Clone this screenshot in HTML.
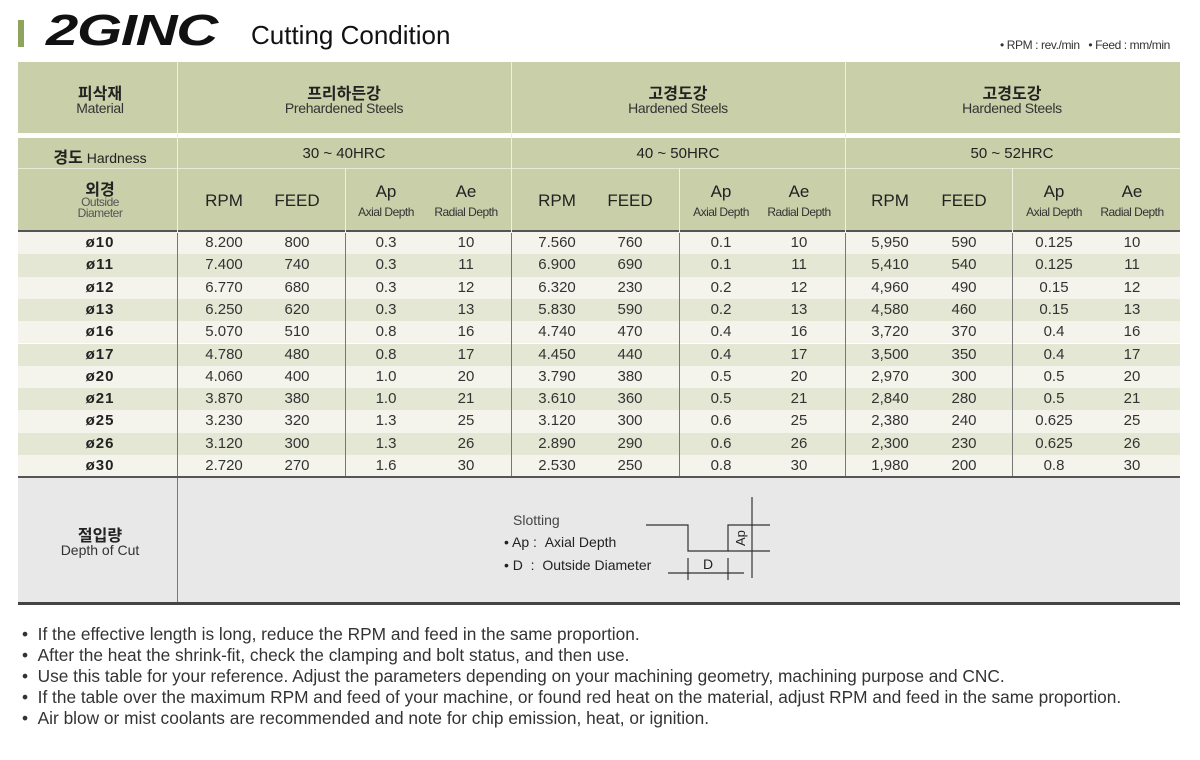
<!DOCTYPE html>
<html><head><meta charset="utf-8">
<style>
*{margin:0;padding:0;box-sizing:border-box}
body{width:1200px;height:760px;background:#fff;position:relative;overflow:hidden;font-family:"Liberation Sans","Noto Sans CJK KR",sans-serif;color:#222}
.a{position:absolute}
.c{position:absolute;text-align:center;white-space:nowrap}
.hd{background:#c9cfa8}
.vl{position:absolute;width:1px}
.row{position:absolute;left:18px;width:1162px;height:22.3px}
.row div{position:absolute;top:0;height:22.3px;line-height:22.3px;text-align:center;font-size:15px;color:#333;transform:translateX(-50%);white-space:nowrap}
.row div.d{font-weight:bold;color:#222;letter-spacing:1px}
.k{font-weight:bold;font-size:16px;color:#222}
.s{font-size:14px;color:#333;letter-spacing:-0.3px}
.ss{font-size:12px;color:#333;letter-spacing:-0.5px}
.b{font-size:17px;color:#222}
.n{position:absolute;left:22px;font-size:17.3px;color:#333;white-space:nowrap}
</style></head><body>
<div class="a" style="left:18px;top:20px;width:6px;height:27px;background:#8fa35c"></div>
<div class="a" style="left:46px;top:6px;font-size:44px;font-weight:900;font-style:italic;letter-spacing:-1px;color:#111;transform:scaleX(1.32);transform-origin:left">2GINC</div>
<div class="a" style="left:251px;top:20px;font-size:26px;color:#111">Cutting Condition</div>
<div class="a" style="left:1000px;top:38px;font-size:12px;color:#333;letter-spacing:-0.4px">• RPM : rev./min &nbsp; • Feed : mm/min</div>

<div class="a hd" style="left:18px;top:62px;width:1162px;height:71px"></div>
<div class="a hd" style="left:18px;top:138px;width:1162px;height:92px"></div>
<div class="a" style="left:18px;top:168px;width:1162px;height:1px;background:#e6e9d8"></div>
<div class="a" style="left:18px;top:230px;width:1162px;height:3px;background:#555"></div>
<div class="vl" style="left:177px;top:62px;height:171px;background:#eef0e2"></div>
<div class="vl" style="left:511px;top:62px;height:171px;background:#eef0e2"></div>
<div class="vl" style="left:845px;top:62px;height:171px;background:#eef0e2"></div>
<div class="vl" style="left:345px;top:168px;height:65px;background:#eef0e2"></div>
<div class="vl" style="left:679px;top:168px;height:65px;background:#eef0e2"></div>
<div class="vl" style="left:1012px;top:168px;height:65px;background:#eef0e2"></div>

<div class="c k" style="left:40px;width:120px;top:80px">피삭재</div>
<div class="c s" style="left:40px;width:120px;top:100px">Material</div>
<div class="c k" style="left:244px;width:200px;top:80px">프리하든강</div>
<div class="c s" style="left:244px;width:200px;top:100px">Prehardened Steels</div>
<div class="c k" style="left:578px;width:200px;top:80px">고경도강</div>
<div class="c s" style="left:578px;width:200px;top:100px">Hardened Steels</div>
<div class="c k" style="left:912px;width:200px;top:80px">고경도강</div>
<div class="c s" style="left:912px;width:200px;top:100px">Hardened Steels</div>

<div class="c" style="left:40px;width:120px;top:144px;font-size:14px"><span class="k">경도</span> Hardness</div>
<div class="c" style="left:244px;width:200px;top:145px;font-size:15px">30 ~ 40HRC</div>
<div class="c" style="left:578px;width:200px;top:145px;font-size:15px">40 ~ 50HRC</div>
<div class="c" style="left:912px;width:200px;top:145px;font-size:15px">50 ~ 52HRC</div>

<div class="c k" style="left:40px;width:120px;top:176px">외경</div>
<div class="c ss" style="left:40px;width:120px;top:197px;line-height:11px;color:#555">Outside<br>Diameter</div>

<div class="c b" style="left:184px;width:80px;top:191px">RPM</div>
<div class="c b" style="left:257px;width:80px;top:191px">FEED</div>
<div class="c b" style="left:346px;width:80px;top:182px">Ap</div>
<div class="c ss" style="left:346px;width:80px;top:205px">Axial Depth</div>
<div class="c b" style="left:426px;width:80px;top:182px">Ae</div>
<div class="c ss" style="left:426px;width:80px;top:205px">Radial Depth</div>

<div class="c b" style="left:517px;width:80px;top:191px">RPM</div>
<div class="c b" style="left:590px;width:80px;top:191px">FEED</div>
<div class="c b" style="left:681px;width:80px;top:182px">Ap</div>
<div class="c ss" style="left:681px;width:80px;top:205px">Axial Depth</div>
<div class="c b" style="left:759px;width:80px;top:182px">Ae</div>
<div class="c ss" style="left:759px;width:80px;top:205px">Radial Depth</div>

<div class="c b" style="left:850px;width:80px;top:191px">RPM</div>
<div class="c b" style="left:924px;width:80px;top:191px">FEED</div>
<div class="c b" style="left:1014px;width:80px;top:182px">Ap</div>
<div class="c ss" style="left:1014px;width:80px;top:205px">Axial Depth</div>
<div class="c b" style="left:1092px;width:80px;top:182px">Ae</div>
<div class="c ss" style="left:1092px;width:80px;top:205px">Radial Depth</div>

<div id="rows">
<div class="row" style="top:232px;background:#f4f4ec"><div class="d" style="left:82px">ø10</div><div style="left:206px">8.200</div><div style="left:279px">800</div><div style="left:368px">0.3</div><div style="left:448px">10</div><div style="left:539px">7.560</div><div style="left:612px">760</div><div style="left:703px">0.1</div><div style="left:781px">10</div><div style="left:872px">5,950</div><div style="left:946px">590</div><div style="left:1036px">0.125</div><div style="left:1114px">10</div></div>
<div class="row" style="top:254.3px;background:#e4e7d4"><div class="d" style="left:82px">ø11</div><div style="left:206px">7.400</div><div style="left:279px">740</div><div style="left:368px">0.3</div><div style="left:448px">11</div><div style="left:539px">6.900</div><div style="left:612px">690</div><div style="left:703px">0.1</div><div style="left:781px">11</div><div style="left:872px">5,410</div><div style="left:946px">540</div><div style="left:1036px">0.125</div><div style="left:1114px">11</div></div>
<div class="row" style="top:276.6px;background:#f4f4ec"><div class="d" style="left:82px">ø12</div><div style="left:206px">6.770</div><div style="left:279px">680</div><div style="left:368px">0.3</div><div style="left:448px">12</div><div style="left:539px">6.320</div><div style="left:612px">230</div><div style="left:703px">0.2</div><div style="left:781px">12</div><div style="left:872px">4,960</div><div style="left:946px">490</div><div style="left:1036px">0.15</div><div style="left:1114px">12</div></div>
<div class="row" style="top:298.9px;background:#e4e7d4"><div class="d" style="left:82px">ø13</div><div style="left:206px">6.250</div><div style="left:279px">620</div><div style="left:368px">0.3</div><div style="left:448px">13</div><div style="left:539px">5.830</div><div style="left:612px">590</div><div style="left:703px">0.2</div><div style="left:781px">13</div><div style="left:872px">4,580</div><div style="left:946px">460</div><div style="left:1036px">0.15</div><div style="left:1114px">13</div></div>
<div class="row" style="top:321.2px;background:#f4f4ec"><div class="d" style="left:82px">ø16</div><div style="left:206px">5.070</div><div style="left:279px">510</div><div style="left:368px">0.8</div><div style="left:448px">16</div><div style="left:539px">4.740</div><div style="left:612px">470</div><div style="left:703px">0.4</div><div style="left:781px">16</div><div style="left:872px">3,720</div><div style="left:946px">370</div><div style="left:1036px">0.4</div><div style="left:1114px">16</div></div>
<div class="row" style="top:343.5px;background:#e4e7d4"><div class="d" style="left:82px">ø17</div><div style="left:206px">4.780</div><div style="left:279px">480</div><div style="left:368px">0.8</div><div style="left:448px">17</div><div style="left:539px">4.450</div><div style="left:612px">440</div><div style="left:703px">0.4</div><div style="left:781px">17</div><div style="left:872px">3,500</div><div style="left:946px">350</div><div style="left:1036px">0.4</div><div style="left:1114px">17</div></div>
<div class="row" style="top:365.8px;background:#f4f4ec"><div class="d" style="left:82px">ø20</div><div style="left:206px">4.060</div><div style="left:279px">400</div><div style="left:368px">1.0</div><div style="left:448px">20</div><div style="left:539px">3.790</div><div style="left:612px">380</div><div style="left:703px">0.5</div><div style="left:781px">20</div><div style="left:872px">2,970</div><div style="left:946px">300</div><div style="left:1036px">0.5</div><div style="left:1114px">20</div></div>
<div class="row" style="top:388.1px;background:#e4e7d4"><div class="d" style="left:82px">ø21</div><div style="left:206px">3.870</div><div style="left:279px">380</div><div style="left:368px">1.0</div><div style="left:448px">21</div><div style="left:539px">3.610</div><div style="left:612px">360</div><div style="left:703px">0.5</div><div style="left:781px">21</div><div style="left:872px">2,840</div><div style="left:946px">280</div><div style="left:1036px">0.5</div><div style="left:1114px">21</div></div>
<div class="row" style="top:410.4px;background:#f4f4ec"><div class="d" style="left:82px">ø25</div><div style="left:206px">3.230</div><div style="left:279px">320</div><div style="left:368px">1.3</div><div style="left:448px">25</div><div style="left:539px">3.120</div><div style="left:612px">300</div><div style="left:703px">0.6</div><div style="left:781px">25</div><div style="left:872px">2,380</div><div style="left:946px">240</div><div style="left:1036px">0.625</div><div style="left:1114px">25</div></div>
<div class="row" style="top:432.7px;background:#e4e7d4"><div class="d" style="left:82px">ø26</div><div style="left:206px">3.120</div><div style="left:279px">300</div><div style="left:368px">1.3</div><div style="left:448px">26</div><div style="left:539px">2.890</div><div style="left:612px">290</div><div style="left:703px">0.6</div><div style="left:781px">26</div><div style="left:872px">2,300</div><div style="left:946px">230</div><div style="left:1036px">0.625</div><div style="left:1114px">26</div></div>
<div class="row" style="top:455px;background:#f4f4ec"><div class="d" style="left:82px">ø30</div><div style="left:206px">2.720</div><div style="left:279px">270</div><div style="left:368px">1.6</div><div style="left:448px">30</div><div style="left:539px">2.530</div><div style="left:612px">250</div><div style="left:703px">0.8</div><div style="left:781px">30</div><div style="left:872px">1,980</div><div style="left:946px">200</div><div style="left:1036px">0.8</div><div style="left:1114px">30</div></div>
</div>
<div class="vl" style="left:177px;top:233px;height:243px;background:#777"></div>
<div class="vl" style="left:345px;top:233px;height:243px;background:#777"></div>
<div class="vl" style="left:511px;top:233px;height:243px;background:#777"></div>
<div class="vl" style="left:679px;top:233px;height:243px;background:#777"></div>
<div class="vl" style="left:845px;top:233px;height:243px;background:#777"></div>
<div class="vl" style="left:1012px;top:233px;height:243px;background:#777"></div>
<div class="a" style="left:18px;top:476px;width:1162px;height:2px;background:#555"></div>

<div class="a" style="left:18px;top:478px;width:1162px;height:124px;background:#e8e8e8"></div>
<div class="vl" style="left:177px;top:478px;height:124px;background:#777"></div>
<div class="a" style="left:18px;top:602px;width:1162px;height:3px;background:#444"></div>
<div class="c k" style="left:40px;width:120px;top:522px">절입량</div>
<div class="c" style="left:40px;width:120px;top:542px;font-size:14px;color:#333">Depth of Cut</div>
<div class="a" style="left:513px;top:512px;font-size:14px;color:#444">Slotting</div>
<div class="a" style="left:504px;top:534px;font-size:14px;color:#222;white-space:nowrap">• Ap : &nbsp;Axial Depth</div>
<div class="a" style="left:504px;top:557px;font-size:14px;color:#222;white-space:nowrap">• D &nbsp;: &nbsp;Outside Diameter</div>
<svg class="a" style="left:640px;top:490px" width="140" height="100" viewBox="640 490 140 100">
<g stroke="#333" stroke-width="1.2" fill="none">
<polyline points="646,525 688,525 688,551 728,551 728,525 770,525"/>
<line x1="728" y1="551" x2="770" y2="551"/>
<line x1="752" y1="497" x2="752" y2="578"/>
<line x1="668" y1="573" x2="744" y2="573"/>
<line x1="688" y1="558" x2="688" y2="580"/>
<line x1="728" y1="558" x2="728" y2="580"/>
</g>
<text x="703" y="569" font-size="14" font-family="Liberation Sans" fill="#222">D</text>
<text transform="translate(745,546) rotate(-90)" font-size="13" font-family="Liberation Sans" fill="#222">Ap</text>
</svg>

<div class="n" style="top:624px">•&nbsp;&nbsp;If the effective length is long, reduce the RPM and feed in the same proportion.</div>
<div class="n" style="top:645px">•&nbsp;&nbsp;After the heat the shrink-fit, check the clamping and bolt status, and then use.</div>
<div class="n" style="top:666px">•&nbsp;&nbsp;Use this table for your reference. Adjust the parameters depending on your machining geometry, machining purpose and CNC.</div>
<div class="n" style="top:687px">•&nbsp;&nbsp;If the table over the maximum RPM and feed of your machine, or found red heat on the material, adjust RPM and feed in the same proportion.</div>
<div class="n" style="top:708px">•&nbsp;&nbsp;Air blow or mist coolants are recommended and note for chip emission, heat, or ignition.</div>
</body></html>
